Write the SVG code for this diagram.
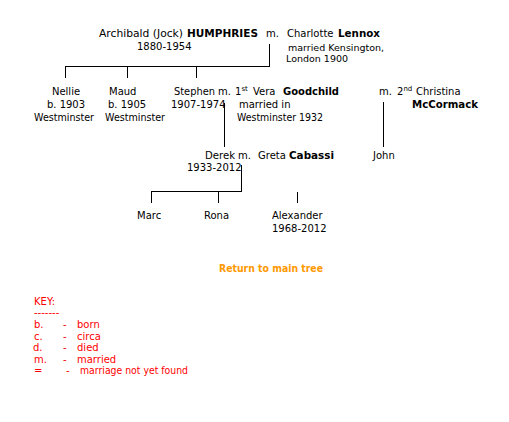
<svg xmlns="http://www.w3.org/2000/svg" width="509" height="422" viewBox="0 0 509 422">
<style>
text{font-family:"DejaVu Sans","Verdana",sans-serif;font-size:10px;fill:#000}
.b{font-weight:bold}
.sup{font-size:7px}
.k{fill:#FF0000}
.r{fill:#FF9900;font-weight:bold}
.ln{stroke:#000;stroke-width:1;fill:none;shape-rendering:crispEdges}
</style>
<rect width="509" height="422" fill="#fff"/>
<g id="connectors">
<path class="ln" d="M269.5 44V66.5H65.5V78M127.5 66.5V78M196.5 66.5V78"/>
<path class="ln" d="M224.5 103V147"/>
<path class="ln" d="M383.5 102V147"/>
<path class="ln" d="M241.5 165V191.5H151.5V203M218.5 191.5V203M297.5 191.5V203"/>
</g>
<g id="archibald">
<text x="99" y="37" textLength="84" lengthAdjust="spacingAndGlyphs">Archibald (Jock)</text>
<text x="187" y="37" class="b" textLength="71" lengthAdjust="spacingAndGlyphs">HUMPHRIES</text>
<text x="266" y="37">m.</text>
<text x="137" y="50">1880-1954</text>
</g>
<g id="charlotte">
<text x="287" y="37">Charlotte</text>
<text x="338" y="37" class="b" textLength="42" lengthAdjust="spacingAndGlyphs">Lennox</text>
<text x="288" y="51" style="font-size:9.5px">married Kensington,</text>
<text x="286" y="62" style="font-size:9.5px">London 1900</text>
</g>
<g id="nellie">
<text x="66" y="95" text-anchor="middle">Nellie</text>
<text x="66" y="108" text-anchor="middle">b. 1903</text>
<text x="64" y="121" text-anchor="middle" textLength="60" lengthAdjust="spacingAndGlyphs">Westminster</text>
</g>
<g id="maud">
<text x="109" y="95">Maud</text>
<text x="108" y="108">b. 1905</text>
<text x="105" y="121" textLength="60" lengthAdjust="spacingAndGlyphs">Westminster</text>
</g>
<g id="stephen">
<text x="174" y="95" textLength="41" lengthAdjust="spacingAndGlyphs">Stephen</text>
<text x="218" y="95">m.</text>
<text x="235" y="95">1<tspan class="sup" dy="-4">st</tspan></text>
<text x="253" y="95">Vera</text>
<text x="283" y="95" class="b" textLength="56" lengthAdjust="spacingAndGlyphs">Goodchild</text>
<text x="171" y="108">1907-1974</text>
<text x="239" y="108">married in</text>
<text x="237" y="121" textLength="86" lengthAdjust="spacingAndGlyphs">Westminster 1932</text>
</g>
<g id="christina">
<text x="379" y="95">m.</text>
<text x="397" y="95">2<tspan class="sup" dy="-4">nd</tspan></text>
<text x="416" y="95">Christina</text>
<text x="412" y="108" class="b" textLength="66" lengthAdjust="spacingAndGlyphs">McCormack</text>
</g>
<g id="john">
<text x="373" y="159">John</text>
</g>
<g id="derek">
<text x="205" y="159" textLength="30" lengthAdjust="spacingAndGlyphs">Derek</text>
<text x="238" y="159">m.</text>
<text x="258" y="159">Greta</text>
<text x="289" y="159" class="b" textLength="45" lengthAdjust="spacingAndGlyphs">Cabassi</text>
<text x="187" y="171">1933-2012</text>
</g>
<g id="marc"><text x="137" y="219">Marc</text></g>
<g id="rona"><text x="204" y="219">Rona</text></g>
<g id="alexander">
<text x="272" y="219">Alexander</text>
<text x="272" y="232">1968-2012</text>
</g>
<g id="return"><text x="219" y="272" class="r" textLength="104" lengthAdjust="spacingAndGlyphs">Return to main tree</text></g>
<g id="key">
<text x="34" y="305" class="k">KEY:</text>
<text x="34" y="316" class="k">-------</text>
<text x="34" y="328" class="k">b.</text><text x="63" y="328" class="k">-</text><text x="77" y="328" class="k">born</text>
<text x="34" y="340" class="k">c.</text><text x="63" y="340" class="k">-</text><text x="77" y="340" class="k">circa</text>
<text x="33" y="351" class="k">d.</text><text x="63" y="351" class="k">-</text><text x="77" y="351" class="k">died</text>
<text x="34" y="363" class="k">m.</text><text x="63" y="363" class="k">-</text><text x="77" y="363" class="k">married</text>
<text x="34" y="374" class="k">=</text><text x="66" y="374" class="k">-</text><text x="80" y="374" class="k" textLength="108" lengthAdjust="spacingAndGlyphs">marriage not yet found</text>
</g>
</svg>
